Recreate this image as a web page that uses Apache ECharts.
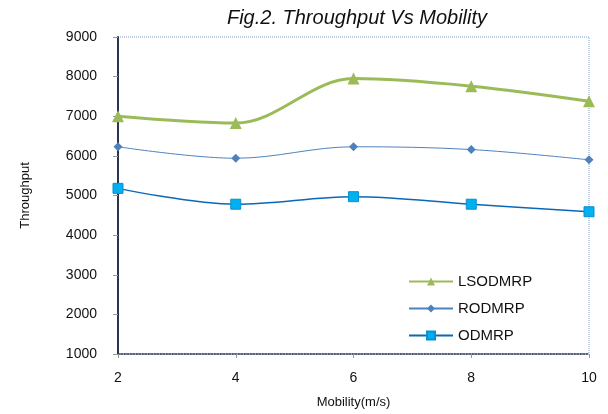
<!DOCTYPE html>
<html>
<head>
<meta charset="utf-8">
<script src="https://cdn.jsdelivr.net/npm/echarts@6/dist/echarts.min.js"></script>
<style>
  html, body { margin: 0; padding: 0; background: #fff; }
  #chart { width: 608px; height: 414px; }
</style>
</head>
<body>
<div id="chart"></div>
<script>
// mobility (m/s) on the x axis
const mobility = [2, 4, 6, 8, 10]
const lsodmrp = [7000, 6830, 7950, 7760, 7380]
const rodmrp = [6230, 5940, 6230, 6160, 5900]
const odmrp = [5180, 4780, 4970, 4780, 4590]

const pairs = vals => mobility.map((m, i) => [m, vals[i]])

const chart = echarts.init(document.getElementById('chart'))
const font = 'Liberation Sans, Arial, sans-serif'

chart.setOption({
  animation: false,
  title: {
    text: 'Fig.2. Throughput Vs Mobility',
    left: 352,
    top: 3,
    textAlign: 'center',
    textStyle: { fontFamily: font, fontStyle: 'italic', fontWeight: 'normal', fontSize: 20, color: '#111' }
  },
  grid: {
    left: 118, right: 19, top: 37, bottom: 59,
    show: true,
    borderColor: '#7f9fd0',
    borderWidth: 1,
    borderType: 'dotted'
  },
  legend: {
    orient: 'vertical',
    left: 403,
    top: 269,
    itemGap: 12,
    itemWidth: 44,
    itemHeight: 10,
    textStyle: { fontFamily: font, fontSize: 15, color: '#111' },
    data: ['LSODMRP', 'RODMRP', 'ODMRP']
  },
  xAxis: {
    type: 'value',
    min: 2, max: 10, interval: 2,
    name: 'Mobility(m/s)',
    nameLocation: 'middle',
    nameGap: 42,
    nameTextStyle: { fontFamily: font, fontSize: 13, color: '#111' },
    axisLine: { lineStyle: { color: '#2a3550', type: 'dotted', width: 1.5 } },
    axisTick: { inside: false, length: 4, lineStyle: { color: '#999' } },
    axisLabel: { fontFamily: font, fontSize: 14, color: '#111', margin: 17 },
    splitLine: { show: false }
  },
  yAxis: {
    type: 'value',
    min: 1000, max: 9000, interval: 1000,
    name: 'Throughput',
    nameLocation: 'middle',
    nameGap: 86,
    nameTextStyle: { fontFamily: font, fontSize: 13, color: '#111' },
    axisLine: { show: true, lineStyle: { color: '#2a3550', width: 2 } },
    axisTick: { show: true, length: 5, lineStyle: { color: '#999' } },
    axisLabel: { fontFamily: font, fontSize: 14, color: '#111', margin: 21, formatter: v => String(v) },
    splitLine: { show: false }
  },
  series: [
    {
      name: 'LSODMRP',
      type: 'line',
      smooth: 0.35,
      data: pairs(lsodmrp),
      symbol: 'triangle',
      symbolSize: 12,
      lineStyle: { color: '#9bbb59', width: 3 },
      itemStyle: { color: '#9bbb59' }
    },
    {
      name: 'RODMRP',
      type: 'line',
      smooth: 0.35,
      data: pairs(rodmrp),
      symbol: 'diamond',
      symbolSize: 9,
      lineStyle: { color: '#4f81bd', width: 1 },
      itemStyle: { color: '#4f81bd' }
    },
    {
      name: 'ODMRP',
      type: 'line',
      smooth: 0.35,
      data: pairs(odmrp),
      symbol: 'rect',
      symbolSize: 10,
      lineStyle: { color: '#0a68b8', width: 1.5 },
      itemStyle: { color: '#00b0f0', borderColor: '#0a8fd0', borderWidth: 1 }
    }
  ]
})
</script>
</body>
</html>
